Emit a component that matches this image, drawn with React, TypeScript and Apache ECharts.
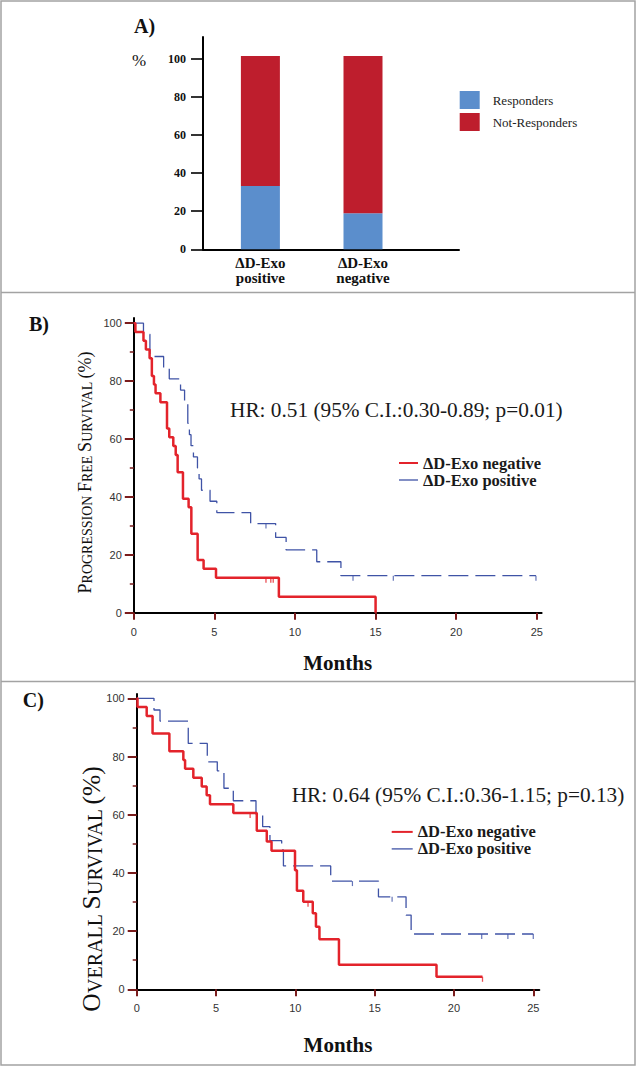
import React, { useEffect, useRef } from "react";
import * as echarts from "echarts";

// ---------- Panel A data ----------
const barCategories = ["ΔD-Exo\npositive", "ΔD-Exo\nnegative"];
const responders = [33.2, 18.9];
const notResponders = [68.2, 82.5];
const barTicks = [0, 20, 40, 60, 80, 100];

// ---------- Kaplan-Meier axes ----------
const kmTicksX = [0, 5, 10, 15, 20, 25];
const kmTicksY = [0, 20, 40, 60, 80, 100];
const kmMinorY = [10, 30, 50, 70, 90];

// ---------- Panel B: progression free survival ----------
const pfsNegTimes = [0, 0.1, 0.6, 0.75, 0.98, 1.12, 1.25, 1.35, 1.65, 2.06, 2.2, 2.45, 2.6, 2.72, 3.05, 3.4, 3.57, 3.96, 4.33, 5.1, 9.0, 15.0];
const pfsNegSurv = [100, 97, 93.9, 90.9, 87.9, 81.8, 78.8, 75.8, 72.7, 63.6, 60.6, 57.6, 54.5, 48.5, 39.4, 36.4, 27.3, 18.2, 15.2, 12.1, 5.5, 0];
const pfsNegEnd = 15.0;
const pfsNegCensor = [8.2, 8.5, 8.65];

const pfsPosTimes = [0, 0.6, 1.0, 1.85, 2.2, 2.9, 3.15, 3.35, 3.45, 3.55, 3.7, 3.95, 4.05, 4.2, 4.73, 5.15, 7.25, 8.8, 9.45, 11.35, 12.85];
const pfsPosSurv = [100, 96.2, 88.5, 84.6, 80.8, 76.9, 73.1, 65.4, 61.5, 57.7, 53.8, 50.0, 46.2, 42.3, 38.5, 34.6, 30.8, 26.0, 21.7, 17.6, 12.8];
const pfsPosEnd = 24.95;
const pfsPosCensor = [8.2, 13.6, 16.1, 24.95];

// ---------- Panel C: overall survival ----------
const osNegTimes = [0, 0.05, 0.63, 1.0, 2.06, 2.94, 3.05, 3.57, 4.1, 4.41, 4.62, 6.09, 7.57, 8.2, 8.5, 9.98, 10.1, 10.5, 11.1, 11.3, 11.52, 12.75, 18.9];
const osNegSurv = [100, 97, 93.9, 87.9, 81.8, 78.8, 75.8, 72.7, 69.7, 66.7, 63.6, 60.6, 54.5, 50.8, 47.6, 40.9, 33.9, 30.1, 26.1, 21.5, 17.2, 8.4, 4.3];
const osNegEnd = 21.8;
const osNegCensor = [7.15, 10.8, 21.8];

const osPosTimes = [0, 1.09, 1.47, 3.25, 4.45, 5.08, 5.5, 6.09, 7.52, 7.94, 8.4, 9.14, 9.25, 12.23, 15.24, 16.98, 17.3];
const osPosSurv = [100, 96.0, 92.2, 84.5, 78.2, 75.1, 69.1, 64.8, 60.2, 55.9, 51.1, 47.9, 42.4, 37.2, 31.8, 25.5, 19.0];
const osPosEnd = 25.0;
const osPosCensor = [13.6, 16.1, 21.75, 23.4, 25.0];

// ---------- styles ----------
const SERIF = "'Liberation Serif', 'Times New Roman', serif";
const SANS = "'Liberation Sans', Arial, sans-serif";
const RED_LINE = "#e3232b";
const BLUE_LINE = "#3f53a6";
const BAR_BLUE = "#5b8ecc";
const BAR_RED = "#be1e2d";
const TICK = "#7a1c1c";
const NEG = "ΔD-Exo negative";
const POS = "ΔD-Exo positive";

function kmPoints(times: number[], surv: number[], end: number) {
  const pts = times.map((t, i) => [t, surv[i]]);
  if (end > times[times.length - 1]) pts.push([end, surv[surv.length - 1]]);
  return pts;
}
function stepAt(times: number[], surv: number[], t: number) {
  let v = surv[0];
  for (let i = 0; i < times.length; i++) if (times[i] <= t) v = surv[i];
  return v;
}
function censorPoints(times: number[], surv: number[], cens: number[]) {
  return cens.map((t) => [t, stepAt(times, surv, t)]);
}

function kmXAxis(gridIndex: number, max: number, margin: number, nameGap: number) {
  return {
    type: "value",
    gridIndex,
    min: 0,
    max,
    name: "Months",
    nameLocation: "middle",
    nameGap,
    nameTextStyle: { fontFamily: SERIF, fontWeight: "bold", fontSize: 21, color: "#111" },
    axisLine: { show: true, onZero: false, lineStyle: { color: "#000", width: 2 } },
    axisTick: { show: true, customValues: kmTicksX, length: 7, lineStyle: { color: TICK, width: 2 } },
    axisLabel: { customValues: kmTicksX, margin, fontFamily: SANS, fontSize: 11, color: "#333" },
    splitLine: { show: false },
  };
}
function kmYAxis(gridIndex: number, max: number) {
  return {
    type: "value",
    gridIndex,
    min: 0,
    max,
    axisLine: { show: true, onZero: false, lineStyle: { color: "#000", width: 2 } },
    axisTick: { show: true, customValues: kmTicksY, length: 9, lineStyle: { color: TICK, width: 2 } },
    axisLabel: { customValues: kmTicksY, margin: 12, fontFamily: SANS, fontSize: 11, color: "#333" },
    splitLine: { show: false },
  };
}
function kmMinorAxis(gridIndex: number, max: number) {
  return {
    type: "value",
    gridIndex,
    min: 0,
    max,
    position: "left",
    axisLine: { show: false },
    axisTick: { show: true, customValues: kmMinorY, length: 4, lineStyle: { color: TICK, width: 1.5 } },
    axisLabel: { show: false },
    splitLine: { show: false },
  };
}

function kmSeries(xi: number, yi: number, negT: number[], negS: number[], negEnd: number, negC: number[], posT: number[], posS: number[], posEnd: number, posC: number[]) {
  return [
    {
      type: "line",
      name: NEG,
      xAxisIndex: xi,
      yAxisIndex: yi,
      step: "end",
      symbol: "none",
      color: RED_LINE,
      lineStyle: { color: RED_LINE, width: 2.5 },
      data: kmPoints(negT, negS, negEnd),
      z: 4,
    },
    {
      type: "line",
      name: POS,
      xAxisIndex: xi,
      yAxisIndex: yi,
      step: "end",
      symbol: "none",
      color: BLUE_LINE,
      lineStyle: { color: BLUE_LINE, width: 1.3, type: [20, 7] },
      data: kmPoints(posT, posS, posEnd),
      z: 3,
    },
    {
      type: "scatter",
      name: "neg-censored",
      xAxisIndex: xi,
      yAxisIndex: yi,
      symbol: "rect",
      symbolSize: [1.3, 5],
      symbolOffset: [0, 2.5],
      itemStyle: { color: RED_LINE },
      data: censorPoints(negT, negS, negC),
      silent: true,
    },
    {
      type: "scatter",
      name: "pos-censored",
      xAxisIndex: xi,
      yAxisIndex: yi,
      symbol: "rect",
      symbolSize: [1.2, 5],
      symbolOffset: [0, 2.5],
      itemStyle: { color: BLUE_LINE },
      data: censorPoints(posT, posS, posC),
      silent: true,
    },
  ];
}

function kmLegend(left: number, top: number, itemWidth: number, rowHeight: number) {
  return {
    orient: "vertical",
    left,
    top,
    padding: 0,
    itemWidth,
    itemHeight: 14,
    itemGap: 0,
    selectedMode: false,
    itemStyle: { opacity: 0 },
    data: [{ name: NEG }, { name: POS, lineStyle: { type: "solid", width: 1.3 } }],
    textStyle: { fontFamily: SERIF, fontWeight: "bold", fontSize: 16.5, lineHeight: rowHeight, color: "#1a1a1a" },
  };
}

const A_TOP = 37;
const A_HEIGHT = 212.3;
const A_MAX = 111.4;

const option: any = {
  animation: false,
  backgroundColor: "#ffffff",
  grid: [
    { left: 203, top: A_TOP, width: 256, height: A_HEIGHT },
    { left: 209.1, top: A_TOP, width: 205.2, height: A_HEIGHT },
    { left: 133.8, top: 318, width: 407.8, height: 294.7 },
    { left: 136.7, top: 694, width: 402.6, height: 295.3 },
  ],
  xAxis: [
    {
      type: "value",
      gridIndex: 0,
      min: 0,
      max: 1,
      axisLine: { show: true, onZero: false, lineStyle: { color: "#000", width: 2 } },
      axisTick: { show: false },
      axisLabel: { show: false },
      splitLine: { show: false },
    },
    {
      type: "category",
      gridIndex: 1,
      data: barCategories,
      axisLine: { show: false },
      axisTick: { show: false },
      axisLabel: { margin: 6, fontFamily: SERIF, fontWeight: "bold", fontSize: 15, lineHeight: 15, color: "#111" },
    },
    kmXAxis(2, 25.3, 14, 40),
    kmXAxis(3, 25.38, 13, 45),
  ],
  yAxis: [
    {
      type: "value",
      gridIndex: 0,
      min: 0,
      max: A_MAX,
      axisLine: { show: true, onZero: false, lineStyle: { color: "#000", width: 2 } },
      axisTick: { show: true, customValues: barTicks, length: 12, lineStyle: { color: "#000", width: 1.6 } },
      axisLabel: { customValues: barTicks, margin: 17, fontFamily: SERIF, fontWeight: "bold", fontSize: 12, color: "#111" },
      splitLine: { show: false },
    },
    { type: "value", gridIndex: 1, min: 0, max: A_MAX, show: false },
    kmYAxis(2, 101.8),
    kmMinorAxis(2, 101.8),
    kmYAxis(3, 101.5),
    kmMinorAxis(3, 101.5),
  ],
  legend: [
    {
      orient: "vertical",
      left: 459.7,
      top: 91,
      padding: 0,
      itemWidth: 20,
      itemHeight: 18,
      itemGap: 4,
      icon: "rect",
      selectedMode: false,
      data: ["Responders", "Not-Responders"],
      textStyle: { fontFamily: SERIF, fontSize: 13, color: "#222", padding: [0, 0, 0, 8] },
    },
    kmLegend(398, 454.5, 19, 16.3),
    kmLegend(390.7, 823.4, 21, 16.6),
  ],
  series: [
    {
      type: "bar",
      name: "Responders",
      xAxisIndex: 1,
      yAxisIndex: 1,
      stack: "total",
      barWidth: 39,
      itemStyle: { color: BAR_BLUE },
      data: responders,
    },
    {
      type: "bar",
      name: "Not-Responders",
      xAxisIndex: 1,
      yAxisIndex: 1,
      stack: "total",
      barWidth: 39,
      itemStyle: { color: BAR_RED },
      data: notResponders,
    },
    ...kmSeries(2, 2, pfsNegTimes, pfsNegSurv, pfsNegEnd, pfsNegCensor, pfsPosTimes, pfsPosSurv, pfsPosEnd, pfsPosCensor),
    ...kmSeries(3, 4, osNegTimes, osNegSurv, osNegEnd, osNegCensor, osPosTimes, osPosSurv, osPosEnd, osPosCensor),
  ],
  graphic: [
    { type: "rect", silent: true, shape: { x: 1, y: 1, width: 634, height: 1064 }, style: { fill: "none", stroke: "#a3a3a3", lineWidth: 1.5 } },
    { type: "line", silent: true, shape: { x1: 1, y1: 292.5, x2: 635, y2: 292.5 }, style: { stroke: "#a3a3a3", lineWidth: 1.5 } },
    { type: "line", silent: true, shape: { x1: 1, y1: 681.5, x2: 635, y2: 681.5 }, style: { stroke: "#a3a3a3", lineWidth: 1.5 } },
    { type: "text", x: 134, y: 26, style: { text: "A)", fontFamily: SERIF, fontWeight: "bold", fontSize: 20, fill: "#111", align: "left", verticalAlign: "middle" } },
    { type: "text", x: 132, y: 60, style: { text: "%", fontFamily: SERIF, fontSize: 17, fill: "#111", align: "left", verticalAlign: "middle" } },
    { type: "text", x: 29, y: 324, style: { text: "B)", fontFamily: SERIF, fontWeight: "bold", fontSize: 20, fill: "#111", align: "left", verticalAlign: "middle" } },
    { type: "text", x: 22.7, y: 700, style: { text: "C)", fontFamily: SERIF, fontWeight: "bold", fontSize: 20, fill: "#111", align: "left", verticalAlign: "middle" } },
    { type: "text", x: 230, y: 410, style: { text: "HR: 0.51 (95% C.I.:0.30-0.89; p=0.01)", fontFamily: SERIF, fontSize: 21.3, fill: "#1a1a1a", align: "left", verticalAlign: "middle" } },
    { type: "text", x: 291.7, y: 795, style: { text: "HR: 0.64 (95% C.I.:0.36-1.15; p=0.13)", fontFamily: SERIF, fontSize: 21.3, fill: "#1a1a1a", align: "left", verticalAlign: "middle" } },
    {
      type: "text",
      x: 85,
      y: 472.5,
      rotation: Math.PI / 2,
      style: {
        text: "{b|P}{s|ROGRESSION }{b|F}{s|REE }{b|S}{s|URVIVAL }{b|(%)}",
        align: "center",
        verticalAlign: "middle",
        rich: {
          b: { fontFamily: SERIF, fontSize: 18, fill: "#111", verticalAlign: "bottom" },
          s: { fontFamily: SERIF, fontSize: 14, fill: "#111", verticalAlign: "bottom" },
        },
      },
    },
    {
      type: "text",
      x: 91.5,
      y: 889,
      rotation: Math.PI / 2,
      style: {
        text: "{b|O}{s|VERALL }{b|S}{s|URVIVAL }{b|(%)}",
        align: "center",
        verticalAlign: "middle",
        rich: {
          b: { fontFamily: SERIF, fontSize: 25.5, fill: "#111", verticalAlign: "bottom" },
          s: { fontFamily: SERIF, fontSize: 20, fill: "#111", verticalAlign: "bottom" },
        },
      },
    },
  ],
};

export default function App() {
  const ref = useRef<HTMLDivElement>(null);
  useEffect(() => {
    if (!ref.current) return;
    const chart = echarts.init(ref.current, null, { renderer: "svg" });
    chart.setOption(option);
    return () => chart.dispose();
  }, []);
  return (
    <div
      ref={ref}
      style={{ position: "fixed", left: 0, top: 0, width: 637, height: 1067, background: "#fff" }}
    />
  );
}
